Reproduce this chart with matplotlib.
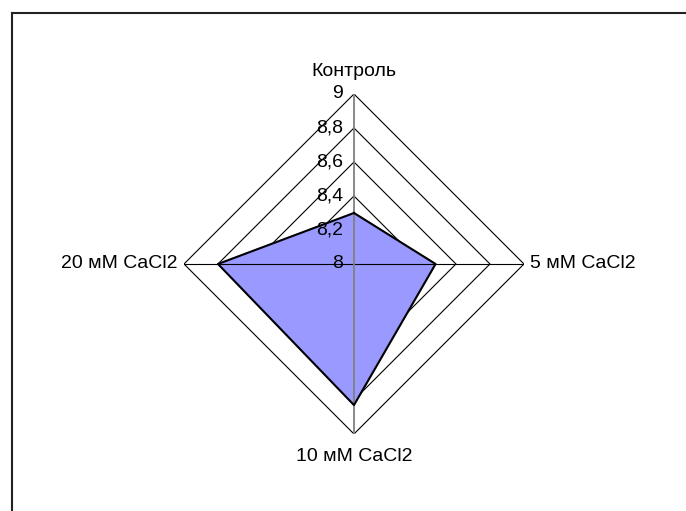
import matplotlib
matplotlib.use("Agg")
import matplotlib.pyplot as plt
import numpy as np

# data (radar, value axis from 8 to 9)
categories = ['Контроль', '5 мМ CaCl2', '10 мМ CaCl2', '20 мМ CaCl2']
values = [8.30, 8.48, 8.83, 8.80]
levels = [8.0, 8.2, 8.4, 8.6, 8.8, 9.0]
level_labels = ['8', '8,2', '8,4', '8,6', '8,8', '9']

plt.rcParams['font.family'] = ['Liberation Sans', 'DejaVu Sans']

fig = plt.figure(figsize=(6.86, 5.11), dpi=100)

# chart area frame (only top and left edges are visible in the picture)
fig.add_artist(plt.Line2D([0.0168, 1.0], [0.9736, 0.9736], color='#222222', lw=1.5))
fig.add_artist(plt.Line2D([0.0168, 0.0168], [0.0, 0.9736], color='#222222', lw=1.5))

ax = fig.add_axes([0.2682, 0.1507, 0.4956, 0.6654], projection='polar')
ax.set_theta_zero_location('N')
ax.set_theta_direction(-1)
ax.set_ylim(levels[0], levels[-1])
ax.grid(False)
ax.spines['polar'].set_visible(False)
ax.set_xticks([])
ax.set_yticks([])
ax.patch.set_alpha(0)

theta = np.arange(len(categories)) * 2 * np.pi / len(categories)
theta_closed = np.append(theta, theta[0])

# diamond shaped gridlines
for lev in levels[1:]:
    ax.plot(theta_closed, [lev] * len(theta_closed), color='black', lw=0.8, zorder=1)

# data polygon
vals_closed = np.append(values, values[0])
ax.fill(theta_closed, vals_closed, color='#9999FF', zorder=2)
ax.plot(theta_closed, vals_closed, color='black', lw=1.5, zorder=4)

# spokes: horizontal black, vertical gray (value axis)
ax.plot([theta[1], theta[3]], [levels[-1], levels[-1]], color='black', lw=0.8, zorder=3)
ax.plot([theta[0], theta[2]], [levels[-1], levels[-1]], color='#808080', lw=1.3, zorder=3)

# value labels along the vertical axis
for lev, lab in zip(levels, level_labels):
    ax.annotate(lab, xy=(0, lev), xytext=(-8, 0), textcoords='offset points',
                ha='right', va='center', fontsize=14, zorder=5)

# category labels
offsets = [(0, 10), (4.5, 0), (0, -10), (-4.5, 0)]
aligns = [('center', 'bottom'), ('left', 'center'), ('center', 'top'), ('right', 'center')]
for t, name, off, al in zip(theta, categories, offsets, aligns):
    ax.annotate(name, xy=(t, levels[-1]), xytext=off, textcoords='offset points',
                ha=al[0], va=al[1], fontsize=14)

fig.savefig('out.png', dpi=100)
